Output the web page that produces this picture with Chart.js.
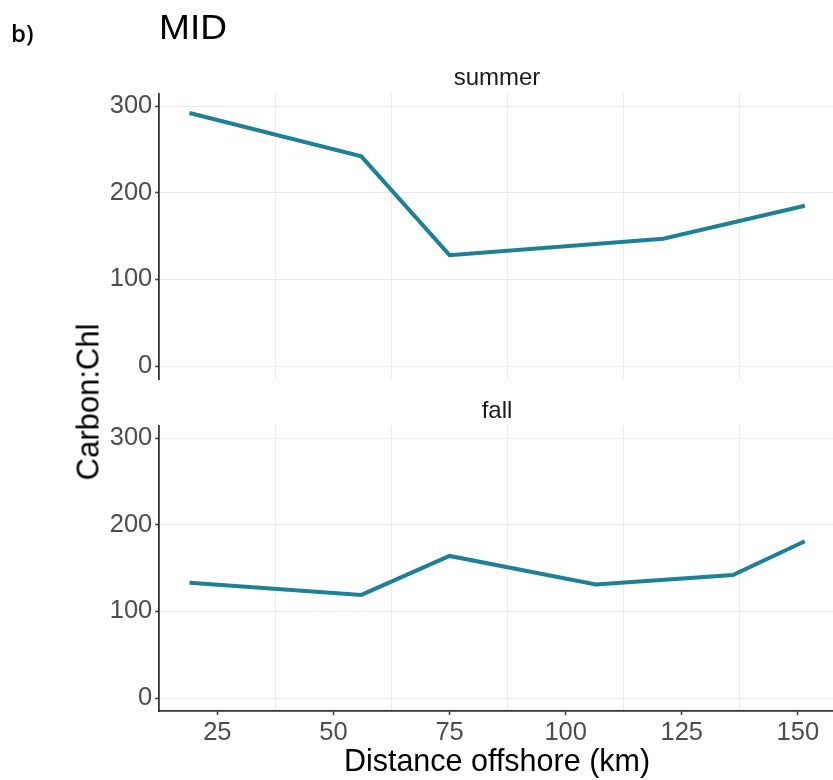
<!DOCTYPE html>
<html>
<head>
<meta charset="utf-8">
<script src="https://cdn.jsdelivr.net/npm/chart.js@4/dist/chart.umd.min.js"></script>
<style>
  html, body { margin: 0; padding: 0; background: #fff; overflow: hidden; width: 833px; height: 780px; }
  #wrap { position: relative; width: 833px; height: 780px; overflow: hidden; }
  canvas { position: absolute; left: 0; }
  .txt { position: absolute; white-space: nowrap; font-family: "Liberation Sans", Arial, sans-serif; line-height: 1; }
</style>
</head>
<body>
<div id="wrap">
  <canvas id="summer" width="840" height="385" style="top:0px;width:840px;height:385px;"></canvas>
  <canvas id="fall" width="840" height="380" style="top:400px;width:840px;height:380px;"></canvas>
  <div class="txt" style="left:11px;top:21px;font-family:'Open Sans',sans-serif;font-weight:600;font-size:24px;color:#000;">b)</div>
  <div class="txt" style="left:159px;top:9px;font-size:35px;color:#000;transform-origin:0 0;transform:scaleX(1.06);">MID</div>
  <div class="txt" style="left:497px;top:77px;transform:translate(-50%,-50%);font-size:24px;color:#1a1a1a;">summer</div>
  <div class="txt" style="left:497px;top:410px;transform:translate(-50%,-50%);font-size:24px;color:#1a1a1a;">fall</div>
  <div class="txt" style="left:88px;top:402px;transform:translate(-50%,-50%) rotate(-90deg);font-size:31px;color:#000;">Carbon:Chl</div>
  <div class="txt" style="left:497px;top:760px;transform:translate(-50%,-50%);font-size:30.5px;color:#000;">Distance offshore (km)</div>
</div>
<script>
// ---- data ----
const xTickLabels = [25, 50, 75, 100, 125, 150];
const xGridValues = [37.5, 62.5, 87.5, 112.5, 137.5];
const yTickLabels = [0, 100, 200, 300];

const summerDistance = [19, 56, 75, 121, 151.5];
const summerCarbonChl = [292, 242, 128, 147, 185];

const fallDistance = [19, 56, 75, 106.5, 136, 151.5];
const fallCarbonChl = [133, 119, 164, 131, 142, 181];

const lineColor = '#1c8097';
const gridColor = '#ebebeb';
const axisColor = '#333333';
const tickFont = { family: "'Liberation Sans', Arial, sans-serif", size: 25.5 };

function toPoints(xs, ys) { return xs.map((x, i) => ({ x: x, y: ys[i] })); }

function makeChart(id, xs, ys, showXLabels, padding, xHeight) {
  const ctx = document.getElementById(id);
  return new Chart(ctx, {
    type: 'line',
    data: {
      datasets: [{
        data: toPoints(xs, ys),
        borderColor: lineColor,
        borderWidth: 4,
        pointRadius: 0,
        tension: 0,
        fill: false
      }]
    },
    options: {
      responsive: false,
      animation: false,
      events: [],
      layout: { padding: padding },
      plugins: { legend: { display: false }, tooltip: { enabled: false }, title: { display: false } },
      scales: {
        x: {
          type: 'linear',
          min: 12.5,
          max: 158.1,
          afterBuildTicks: s => {
            const vals = xTickLabels.concat(xGridValues).sort((a, b) => a - b);
            s.ticks = vals.map(v => ({ value: v }));
          },
          afterFit: s => { s.height = xHeight; s.paddingLeft = 0; s.paddingRight = 0; },
          ticks: {
            display: showXLabels,
            autoSkip: false,
            maxRotation: 0,
            minRotation: 0,
            padding: 3,
            color: '#4d4d4d',
            font: tickFont,
            callback: v => xTickLabels.includes(v) ? String(v) : ''
          },
          grid: {
            drawOnChartArea: true,
            drawTicks: showXLabels,
            tickLength: 4,
            lineWidth: 1,
            color: c => (c.tick && xGridValues.includes(c.tick.value)) ? gridColor : 'rgba(0,0,0,0)',
            tickColor: c => (c.tick && xTickLabels.includes(c.tick.value)) ? axisColor : 'rgba(0,0,0,0)',
            tickWidth: 1.5
          },
          border: { display: showXLabels, color: axisColor, width: 1.8 }
        },
        y: {
          type: 'linear',
          min: -15,
          max: 314,
          afterBuildTicks: s => { s.ticks = yTickLabels.map(v => ({ value: v })); },
          afterFit: s => { s.width = 159.3; s.paddingTop = 0; s.paddingBottom = 0; },
          ticks: {
            padding: 3,
            color: '#4d4d4d',
            font: tickFont,
            callback: v => String(v)
          },
          grid: {
            color: gridColor,
            lineWidth: 1,
            tickLength: 4,
            tickColor: axisColor,
            tickWidth: 1.5
          },
          border: { display: true, color: axisColor, width: 1.8 }
        }
      }
    }
  });
}

makeChart('summer', summerDistance, summerCarbonChl, false, { top: 94, bottom: 6, left: 0, right: 4.5 }, 0);
makeChart('fall', fallDistance, fallCarbonChl, true, { top: 26, bottom: 0, left: 0, right: 4.5 }, 69);
</script>
</body>
</html>
